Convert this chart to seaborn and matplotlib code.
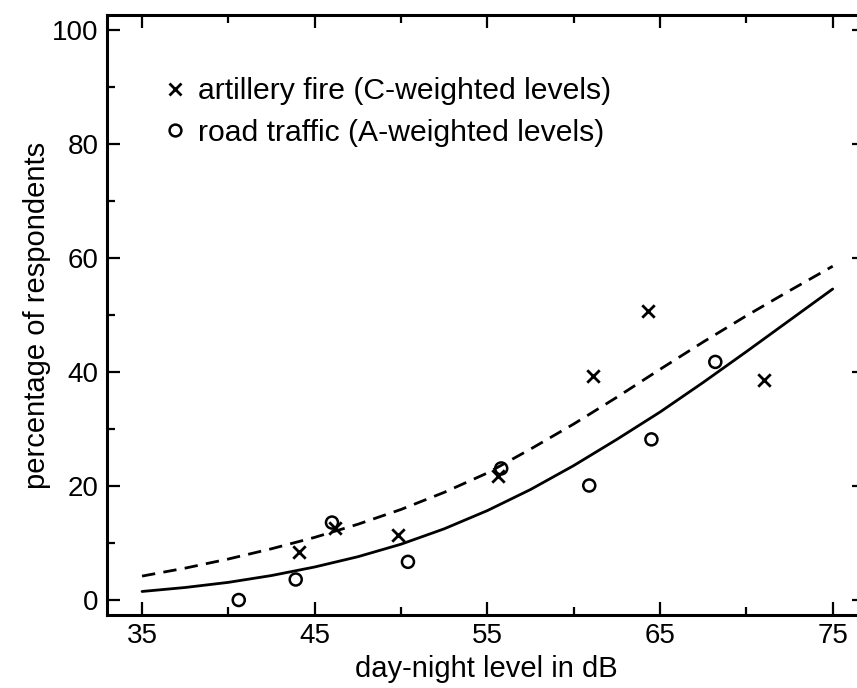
import matplotlib
matplotlib.use("Agg")
import matplotlib.pyplot as plt
from matplotlib.lines import Line2D
from matplotlib.ticker import MultipleLocator
import seaborn as sns
import pandas as pd

# ---- data ----
artillery_x = [44.1, 46.2, 49.8, 55.6, 61.1, 64.3, 71.0]
artillery_y = [8.4, 12.7, 11.4, 21.8, 39.3, 50.8, 38.7]

road_x = [40.6, 43.9, 46.0, 50.4, 55.8, 60.9, 64.5, 68.2]
road_y = [0.0, 3.6, 13.6, 6.7, 23.1, 20.1, 28.2, 41.8]

curve_x = [35, 37.5, 40, 42.5, 45, 47.5, 50, 52.5, 55, 57.5, 60, 62.5, 65, 67.5, 70, 72.5, 75]
road_curve = [1.5, 2.2, 3.1, 4.3, 5.8, 7.6, 9.8, 12.5, 15.7, 19.4, 23.6, 28.2, 33.0, 38.2, 43.6, 49.1, 54.6]
artillery_curve = [4.2, 5.6, 7.2, 9.0, 11.0, 13.3, 15.9, 18.9, 22.3, 26.5, 30.9, 35.6, 40.5, 45.3, 49.9, 54.3, 58.6]

x_major = [35, 45, 55, 65, 75]
y_major = [0, 20, 40, 60, 80, 100]
legend_labels = ["artillery fire (C-weighted levels)", "road traffic (A-weighted levels)"]
xlabel = "day-night level in dB"
ylabel = "percentage of respondents"

# ---- style ----
sns.set_theme(style="ticks")
plt.rcParams["font.family"] = ["Liberation Sans", "DejaVu Sans"]
plt.rcParams["text.color"] = "black"
plt.rcParams["axes.labelcolor"] = "black"

W, H = 857, 688
fig = plt.figure(figsize=(W / 100, H / 100), dpi=100)
left_px, right_px, top_px, bottom_px = 107, 865, 15, 615
ax = fig.add_axes([left_px / W, 1 - bottom_px / H,
                   (right_px - left_px) / W, (bottom_px - top_px) / H])

curves = pd.DataFrame({"x": curve_x, "road": road_curve, "art": artillery_curve})
sns.lineplot(data=curves, x="x", y="road", ax=ax, color="black", lw=2.0)
sns.lineplot(data=curves, x="x", y="art", ax=ax, color="black", lw=2.0,
             linestyle=(0, (4.8, 3.0)))

sns.scatterplot(x=artillery_x, y=artillery_y, ax=ax, marker="x", s=80,
                color="black", linewidth=2.0, zorder=5)
sns.scatterplot(x=road_x, y=road_y, ax=ax, marker="o", s=75,
                facecolor="none", edgecolor="black", linewidth=1.8, zorder=5)

ax.set_xlim(32.97, 76.87)
ax.set_ylim(-2.63, 102.7)
ax.set_xticks(x_major)
ax.set_yticks(y_major)
ax.xaxis.set_minor_locator(MultipleLocator(5))
ax.yaxis.set_minor_locator(MultipleLocator(10))

for s in ax.spines.values():
    s.set_linewidth(2.2)
    s.set_color("black")

ax.tick_params(which="both", direction="in", top=True, right=True,
               width=1.6, color="black")
ax.tick_params(which="major", length=9.5, labelsize=20, pad=6, labelcolor="black")
ax.tick_params(which="minor", length=5.5)

ax.set_xlabel(xlabel, fontsize=21, color="black", labelpad=4)
ax.set_ylabel(ylabel, fontsize=21, color="black", labelpad=1)

handles = [
    Line2D([], [], marker="x", linestyle="none", color="black", markersize=9, mew=2.0),
    Line2D([], [], marker="o", linestyle="none", markerfacecolor="none",
           markeredgecolor="black", markersize=8.5, mew=1.8),
]
ax.legend(handles, legend_labels, loc="upper left", bbox_to_anchor=(0.074, 0.896),
          frameon=False, fontsize=21.7, handlelength=0.8, handletextpad=0.37,
          labelspacing=0.45, borderpad=0, borderaxespad=0, labelcolor="black")

fig.savefig("out.png", dpi=100)
